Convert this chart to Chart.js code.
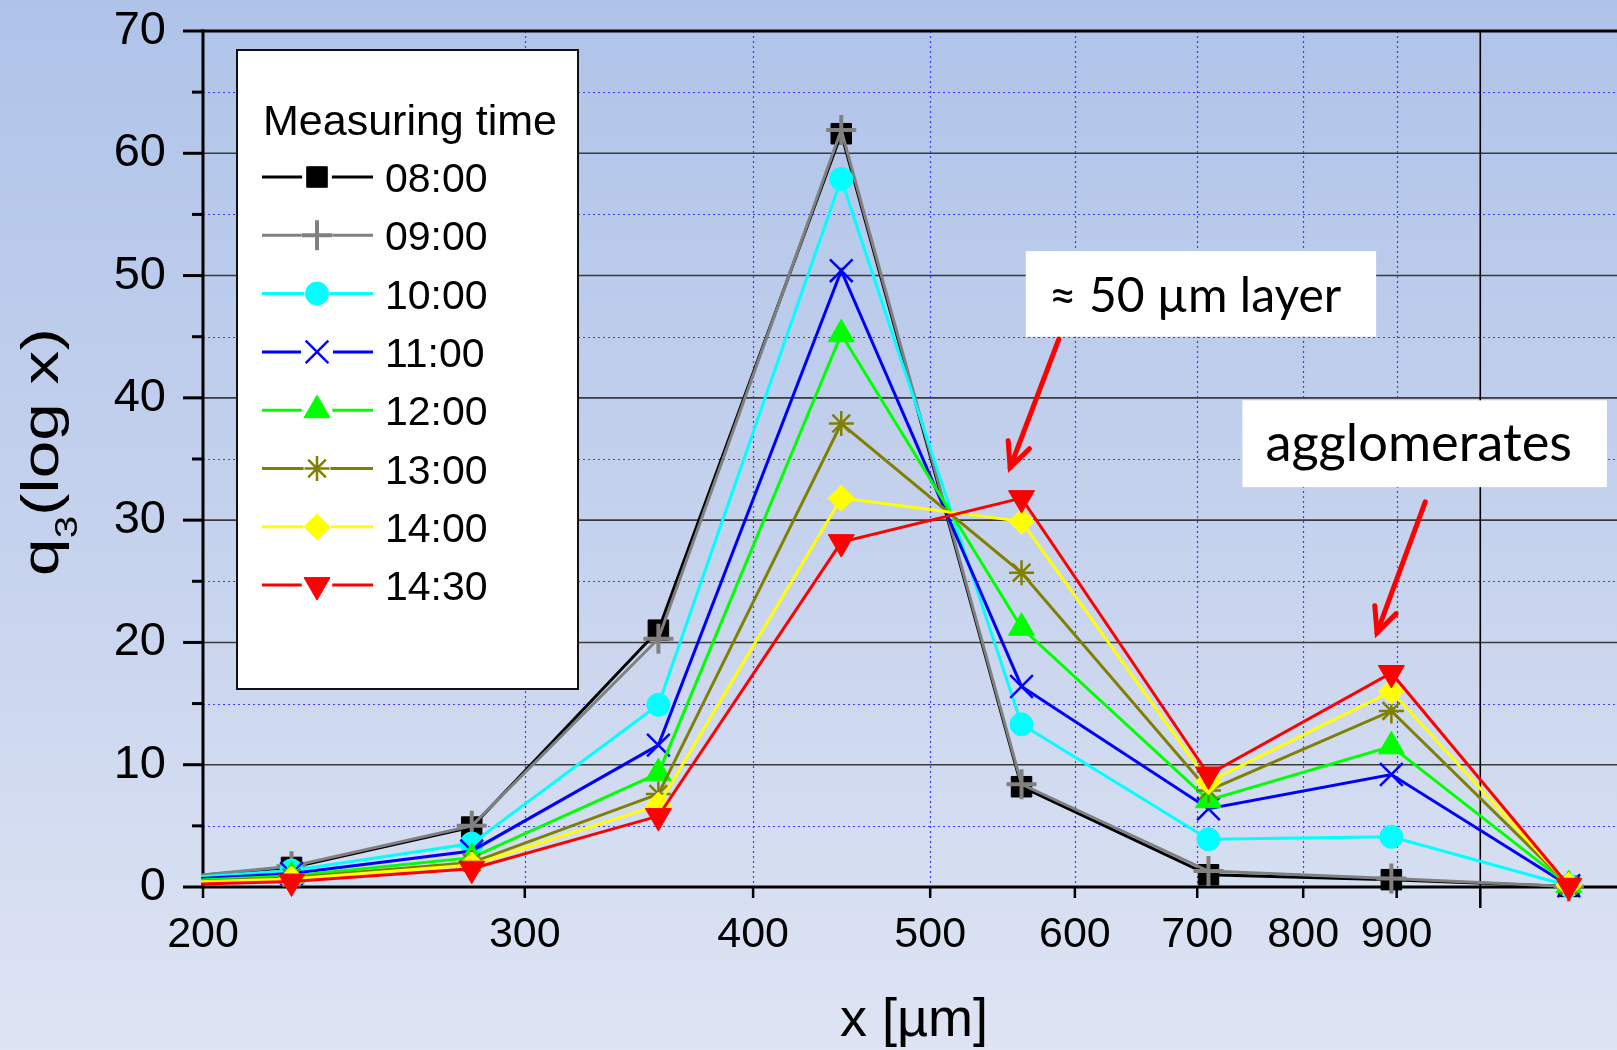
<!DOCTYPE html>
<html lang="en">
<head>
<meta charset="UTF-8">
<title>q3 particle size distribution</title>
<script src="https://cdn.jsdelivr.net/npm/chart.js"></script>
<style>
  html, body { margin: 0; padding: 0; }
  body {
    width: 1617px; height: 1050px; overflow: hidden;
    background: linear-gradient(to bottom, #afc3e9 0%, #c5d2ed 50%, #dee4f3 100%);
  }
  canvas { display: block; }
</style>
</head>
<body>
<canvas id="q3Chart" width="1617" height="1050"></canvas>

<script>
// size classes in µm (geometric mean of each sieve interval)
var sizes = [178.9, 223.6, 280.6, 355, 447, 561, 710, 894, 1118];
var times = ['08:00', '09:00', '10:00', '11:00', '12:00', '13:00', '14:00', '14:30'];

// q3(log x) per measuring time
var q0800 = [0.35, 1.6, 4.9, 21.0, 61.6, 8.2, 1.0, 0.6, 0.05];
var q0900 = [0.3, 1.7, 5.0, 20.3, 61.9, 8.4, 1.3, 0.7, 0.05];
var q1000 = [0.33, 1.35, 3.55, 14.9, 57.9, 13.3, 3.9, 4.1, 0.1];
var q1100 = [0.3, 1.1, 2.95, 11.6, 50.4, 16.4, 6.4, 9.2, 0.1];
var q1200 = [0.25, 0.9, 2.4, 9.3, 45.2, 21.2, 7.1, 11.5, 0.15];
var q1300 = [0.22, 0.75, 2.0, 7.6, 37.9, 25.7, 7.9, 14.4, 0.15];
var q1400 = [0.2, 0.65, 1.8, 6.7, 31.8, 29.9, 8.6, 16.0, 0.15];
var q1430 = [0.05, 0.45, 1.5, 5.8, 28.2, 31.8, 9.2, 17.5, 0.1];
var seriesValues = [q0800, q0900, q1000, q1100, q1200, q1300, q1400, q1430];

// axis ranges and ticks
var xMin = 200, xMax = 1188;
var xTicks = [200, 300, 400, 500, 600, 700, 800, 900, 1000];
var xMajor = [1000];
var yTicks = [0, 10, 20, 30, 40, 50, 60, 70];
var yMinor = [5, 15, 25, 35, 45, 55, 65];

var styles = [
  { color: '#000000', pointStyle: 'rect',     radius: 14.5, bw: 1,   rot: 0 },
  { color: '#808080', pointStyle: 'cross',    radius: 15,   bw: 4,   rot: 0 },
  { color: '#00ffff', pointStyle: 'circle',   radius: 11.5, bw: 1,   rot: 0 },
  { color: '#0000ff', pointStyle: 'crossRot', radius: 16,   bw: 2.5, rot: 0 },
  { color: '#00ff00', pointStyle: 'triangle', radius: 15,   bw: 1,   rot: 0 },
  { color: '#808000', pointStyle: 'star',     radius: 12.5, bw: 2.5, rot: 0 },
  { color: '#ffff00', pointStyle: 'rectRot',  radius: 13,   bw: 1,   rot: 0 },
  { color: '#ff0000', pointStyle: 'triangle', radius: 15,   bw: 1,   rot: 180 }
];

// notes, placed in data coordinates
var notes = [
  { text: '\u2248 50 \u00b5m layer', x0: 564, x1: 877, yTop: 52.0, yBot: 45.0 },
  { text: 'agglomerates', x0: 741, x1: 1173, yTop: 39.8, yBot: 32.7 }
];
var arrows = [
  { fromX: 588, fromY: 44.8, toX: 553, toY: 34.3 },
  { fromX: 933, fromY: 31.5, toX: 878, toY: 20.8 }
];

var SANS = '"Liberation Sans", Arial, sans-serif';

function strokeLine(ctx, x1, y1, x2, y2) {
  ctx.beginPath();
  ctx.moveTo(x1, y1);
  ctx.lineTo(x2, y2);
  ctx.stroke();
}

var framePlugin = {
  id: 'frame',
  beforeDatasetsDraw: function (chart) {
    var ctx = chart.ctx, a = chart.chartArea;
    var xs = chart.scales.x, ys = chart.scales.y;
    ctx.save();

    // dotted minor grid
    ctx.strokeStyle = '#3b3bff';
    ctx.lineWidth = 1.2;
    ctx.setLineDash([2, 3]);
    yMinor.forEach(function (v) {
      var py = Math.round(ys.getPixelForValue(v)) + 0.5;
      strokeLine(ctx, a.left, py, a.right, py);
    });
    xTicks.forEach(function (v) {
      if (v === xTicks[0] || xMajor.indexOf(v) >= 0) return;
      var px = Math.round(xs.getPixelForValue(v)) + 0.5;
      strokeLine(ctx, px, a.top, px, a.bottom);
    });
    ctx.setLineDash([]);

    // solid major grid
    ctx.strokeStyle = '#3a3a3a';
    ctx.lineWidth = 1.6;
    yTicks.forEach(function (v) {
      if (v === 0 || v === 70) return;
      var py = ys.getPixelForValue(v);
      strokeLine(ctx, a.left, py, a.right, py);
    });
    ctx.strokeStyle = '#000';
    xMajor.forEach(function (v) {
      var px = xs.getPixelForValue(v);
      strokeLine(ctx, px, a.top, px, a.bottom);
    });

    // tick marks
    ctx.lineWidth = 3;
    yTicks.forEach(function (v) {
      var py = ys.getPixelForValue(v);
      strokeLine(ctx, a.left - 20, py, a.left, py);
    });
    yMinor.forEach(function (v) {
      var py = ys.getPixelForValue(v);
      strokeLine(ctx, a.left - 11, py, a.left, py);
    });
    ctx.lineWidth = 2.5;
    xTicks.forEach(function (v) {
      var px = xs.getPixelForValue(v);
      var len = xMajor.indexOf(v) >= 0 ? 21 : 11;
      strokeLine(ctx, px, a.bottom, px, a.bottom + len);
    });

    // axes and top border
    ctx.lineWidth = 3;
    strokeLine(ctx, a.left, a.top - 1.5, a.left, a.bottom + 1.5);
    strokeLine(ctx, a.left - 1.5, a.bottom, a.right, a.bottom);
    strokeLine(ctx, a.left - 1.5, a.top, a.right, a.top);
    ctx.restore();
  }
};

var overlayPlugin = {
  id: 'overlay',
  afterDraw: function (chart) {
    var ctx = chart.ctx, a = chart.chartArea;
    var xs = chart.scales.x, ys = chart.scales.y;
    ctx.save();

    // note boxes
    notes.forEach(function (n) {
      var l = xs.getPixelForValue(n.x0), r = xs.getPixelForValue(n.x1);
      var t = ys.getPixelForValue(n.yTop), b = ys.getPixelForValue(n.yBot);
      ctx.fillStyle = '#ffffff';
      ctx.fillRect(l, t, r - l, b - t);
      ctx.font = '100px Lato';
      var w = ctx.measureText(n.text).width;
      var size = 100 * (r - l - 58) / w;
      ctx.font = size.toFixed(1) + 'px Lato';
      ctx.fillStyle = '#000';
      ctx.textAlign = 'left';
      ctx.textBaseline = 'alphabetic';
      ctx.fillText(n.text, l + 23, t + 61);
    });

    // red arrows
    ctx.strokeStyle = '#ff0000';
    ctx.lineWidth = 5;
    ctx.lineCap = 'round';
    arrows.forEach(function (ar) {
      var x1 = xs.getPixelForValue(ar.fromX), y1 = ys.getPixelForValue(ar.fromY);
      var x2 = xs.getPixelForValue(ar.toX), y2 = ys.getPixelForValue(ar.toY);
      strokeLine(ctx, x1, y1, x2, y2);
      var ang = Math.atan2(y1 - y2, x1 - x2), k = 27, s = 25 * Math.PI / 180;
      ctx.beginPath();
      ctx.moveTo(x2 + k * Math.cos(ang - s), y2 + k * Math.sin(ang - s));
      ctx.lineTo(x2, y2);
      ctx.lineTo(x2 + k * Math.cos(ang + s), y2 + k * Math.sin(ang + s));
      ctx.stroke();
    });
    ctx.lineCap = 'butt';

    // legend
    var bx = a.left + 34, by = a.top + 19, bw = 341, bh = 639;
    ctx.fillStyle = '#ffffff';
    ctx.fillRect(bx, by, bw, bh);
    ctx.strokeStyle = '#111';
    ctx.lineWidth = 2;
    ctx.strokeRect(bx, by, bw, bh);
    ctx.fillStyle = '#000';
    ctx.font = '43px ' + SANS;
    ctx.textAlign = 'left';
    ctx.textBaseline = 'alphabetic';
    ctx.fillText('Measuring time', bx + 26, by + 85);
    ctx.font = '41px ' + SANS;
    chart.data.datasets.forEach(function (ds, i) {
      var cy = by + 127 + i * 58.3;
      var mx = bx + 80, gap = ds.pointRadius * 0.75 + 4;
      ctx.strokeStyle = ds.borderColor;
      ctx.lineWidth = 3;
      strokeLine(ctx, bx + 25, cy, mx - gap, cy);
      strokeLine(ctx, mx + gap, cy, bx + 136, cy);
      ctx.fillStyle = ds.pointBackgroundColor;
      ctx.lineWidth = ds.pointBorderWidth;
      Chart.helpers.drawPoint(ctx, {
        pointStyle: ds.pointStyle, rotation: ds.pointRotation,
        radius: ds.pointRadius, borderWidth: ds.pointBorderWidth
      }, mx, cy);
      ctx.fillStyle = '#000';
      ctx.fillText(ds.label, bx + 148, cy + 15);
    });

    // axis titles
    ctx.fillStyle = '#000';
    ctx.font = '54px ' + SANS;
    ctx.textAlign = 'center';
    ctx.fillText('x [\u00b5m]', 914, 1036);

    ctx.save();
    ctx.translate(58, 452);
    ctx.rotate(-Math.PI / 2);
    ctx.scale(1.3, 1);
    ctx.textAlign = 'left';
    var fMain = '52px ' + SANS, fSub = '31px ' + SANS;
    ctx.font = fMain;
    var wq = ctx.measureText('q').width, wr = ctx.measureText('(log x)').width;
    ctx.font = fSub;
    var w3 = ctx.measureText('3').width;
    var x0 = -(wq + w3 + wr) / 2;
    ctx.font = fMain; ctx.fillText('q', x0, 0);
    ctx.font = fSub;  ctx.fillText('3', x0 + wq, 19);
    ctx.font = fMain; ctx.fillText('(log x)', x0 + wq + w3, 0);
    ctx.restore();

    ctx.restore();
  }
};

var ctx = document.getElementById('q3Chart').getContext('2d');
var q3Chart = new Chart(ctx, {
  type: 'line',
  data: {
    datasets: times.map(function (t, i) {
      var s = styles[i];
      return {
        label: t,
        data: sizes.map(function (x, k) { return { x: x, y: seriesValues[i][k] }; }),
        borderColor: s.color,
        backgroundColor: s.color,
        borderWidth: 3,
        pointStyle: s.pointStyle,
        pointRadius: s.radius,
        pointRotation: s.rot,
        pointBorderWidth: s.bw,
        pointBackgroundColor: s.color,
        pointBorderColor: s.color,
        order: times.length - 1 - i,
        clip: { left: 2, top: false, right: false, bottom: false }
      };
    })
  },
  options: {
    responsive: false,
    devicePixelRatio: 1,
    animation: false,
    events: [],
    layout: { autoPadding: false, padding: { top: 31, left: 0, right: 0, bottom: 0 } },
    plugins: { legend: { display: false }, tooltip: { enabled: false } },
    scales: {
      x: {
        type: 'logarithmic',
        bounds: 'data',
        min: xMin,
        max: xMax,
        afterBuildTicks: function (s) {
          s.min = xMin; s.max = xMax;
          s.ticks = xTicks.map(function (v) { return { value: v }; });
        },
        afterFit: function (s) {
          s.height = 163;
          s.paddingLeft = 0; s.paddingRight = 0;
        },
        grid: { display: false, drawTicks: false },
        border: { display: false },
        ticks: {
          autoSkip: false, maxRotation: 0, minRotation: 0, padding: 22, color: '#000',
          font: { family: SANS, size: 43 },
          callback: function (v) { return xMajor.indexOf(v) >= 0 ? '' : String(v); }
        }
      },
      y: {
        min: 0,
        max: 70,
        afterBuildTicks: function (s) { s.ticks = yTicks.map(function (v) { return { value: v }; }); },
        afterFit: function (s) {
          s.width = 203;
          s.paddingTop = 0; s.paddingBottom = 0;
        },
        grid: { display: false, drawTicks: false },
        border: { display: false },
        ticks: { padding: 37, color: '#000', font: { family: SANS, size: 47 } }
      }
    }
  },
  plugins: [framePlugin, overlayPlugin]
});
</script>
</body>
</html>
